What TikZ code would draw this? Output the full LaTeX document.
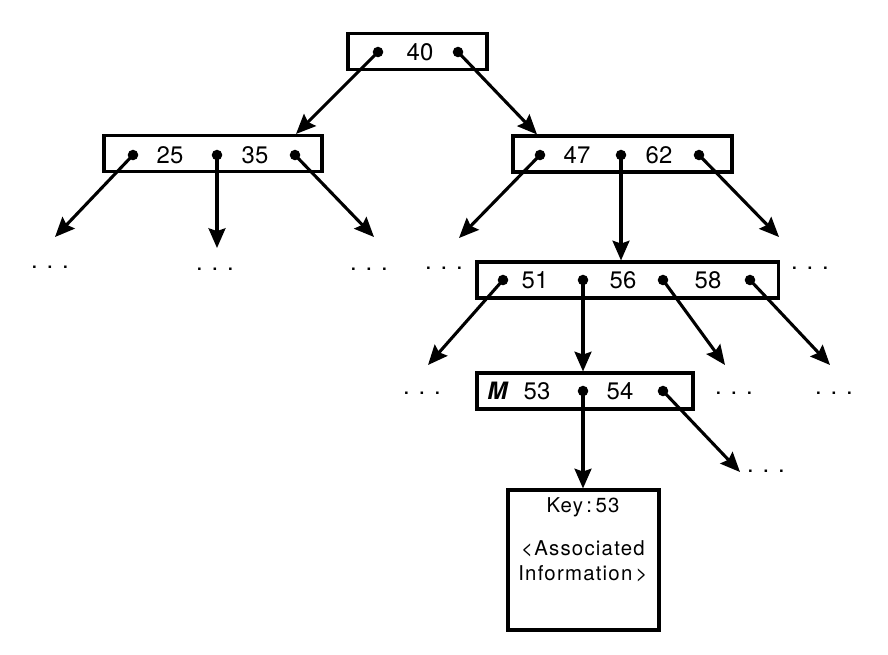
\documentclass[tikz,border=0pt]{standalone}
\usepackage{fontspec}
\setmainfont{TeX Gyre Heros}
\usetikzlibrary{
  arrows.meta
}
\tikzset{
  x=0.025cm, y=-0.025cm,
  ptr/.style={-{Stealth[length=14pt,width=12pt,inset=2pt]}, line width=2.2pt},
  keybox/.style={draw, line width=2.2pt, inner sep=0pt, minimum height=0.9cm},
  dot/.style={circle, fill, inner sep=0pt, minimum size=7.5pt},
  key/.style={font=\fontsize{17}{20}\selectfont, inner sep=0pt},
  more/.style={font=\fontsize{17}{19}\selectfont, inner sep=0pt},
  info/.style={font=\fontsize{14.5}{17.5}\selectfont\addfontfeature{LetterSpace=6}, align=center, inner sep=0pt}
}

\begin{document}
\begin{tikzpicture}
    \useasboundingbox (0,0) rectangle (888,654);
    % index nodes
    \node[keybox, minimum width=3.475cm] (root) at (417.5,51.5) {};
    \node[keybox, minimum width=5.45cm] (A) at (213,153.5) {};
    \node[keybox, minimum width=5.475cm] (B) at (622.5,154) {};
    \node[keybox, minimum width=7.525cm] (C) at (627.5,280) {};
    \node[keybox, minimum width=5.4cm] (D) at (585,391) {};
    \node[keybox, minimum width=3.775cm, minimum height=3.5cm] (rec) at (583.5,560) {};
    % keys
    \node[key] at (420,52) {40};
    \node[key] at (170,155) {25};
    \node[key] at (255,155) {35};
    \node[key] at (577,155) {47};
    \node[key] at (659,155) {62};
    \node[key] at (535,280) {51};
    \node[key] at (623,280) {56};
    \node[key] at (708,280) {58};
    \node[key] at (498,391) {\textit{\textbf{M}}};
    \node[key] at (537,391) {53};
    \node[key] at (620,391) {54};
    \node[info] at (583,507) {Key\,:\,53};
    \node[info] at (583,561) {<Associated\\Information\,>};
    % pointers
    \node[dot] (r1) at (378,52) {};
    \node[dot] (r2) at (458,52) {};
    \node[dot] (a1) at (133,155) {};
    \node[dot] (a2) at (217,155) {};
    \node[dot] (a3) at (295,155) {};
    \node[dot] (b1) at (540,155) {};
    \node[dot] (b2) at (621,155) {};
    \node[dot] (b3) at (699,155) {};
    \node[dot] (c1) at (503,280) {};
    \node[dot] (c2) at (583,280) {};
    \node[dot] (c3) at (663,280) {};
    \node[dot] (c4) at (750,280) {};
    \node[dot] (d1) at (583,391) {};
    \node[dot] (d2) at (663,391) {};
    % subtrees not shown
    \node[more] (m1) at (50,267) {. . .};
    \node[more] (m2) at (215,269) {. . .};
    \node[more] (m3) at (369,269) {. . .};
    \node[more] (m4) at (444,268) {. . .};
    \node[more] (m5) at (810,268) {. . .};
    \node[more] (m6) at (422,393) {. . .};
    \node[more] (m7) at (734,393) {. . .};
    \node[more] (m8) at (834,393) {. . .};
    \node[more] (m9) at (766,471) {. . .};
    \coordinate (ta1) at (55,237);
    \coordinate (ta2) at (217,248);
    \coordinate (ta3) at (374,237);
    \coordinate (tb1) at (459,238);
    \coordinate (tb3) at (779,237);
    \coordinate (tc1) at (428,365);
    \coordinate (tc3) at (725,365);
    \coordinate (tc4) at (830,365);
    \coordinate (td2) at (740,472);
    \draw[ptr] (r1.center) -- (A.north -| 296,0);
    \draw[ptr] (r2.center) -- (B.north -| 537,0);
    \draw[ptr] (a1.center) -- (ta1);
    \draw[ptr] (a2.center) -- (ta2);
    \draw[ptr] (a3.center) -- (ta3);
    \draw[ptr] (b1.center) -- (tb1);
    \draw[ptr] (b2.center) -- (C.north -| b2);
    \draw[ptr] (b3.center) -- (tb3);
    \draw[ptr] (c1.center) -- (tc1);
    \draw[ptr] (c2.center) -- (D.north -| c2);
    \draw[ptr] (c3.center) -- (tc3);
    \draw[ptr] (c4.center) -- (tc4);
    \draw[ptr] (d1.center) -- (rec.north -| d1);
    \draw[ptr] (d2.center) -- (td2);
\end{tikzpicture}
\end{document}
